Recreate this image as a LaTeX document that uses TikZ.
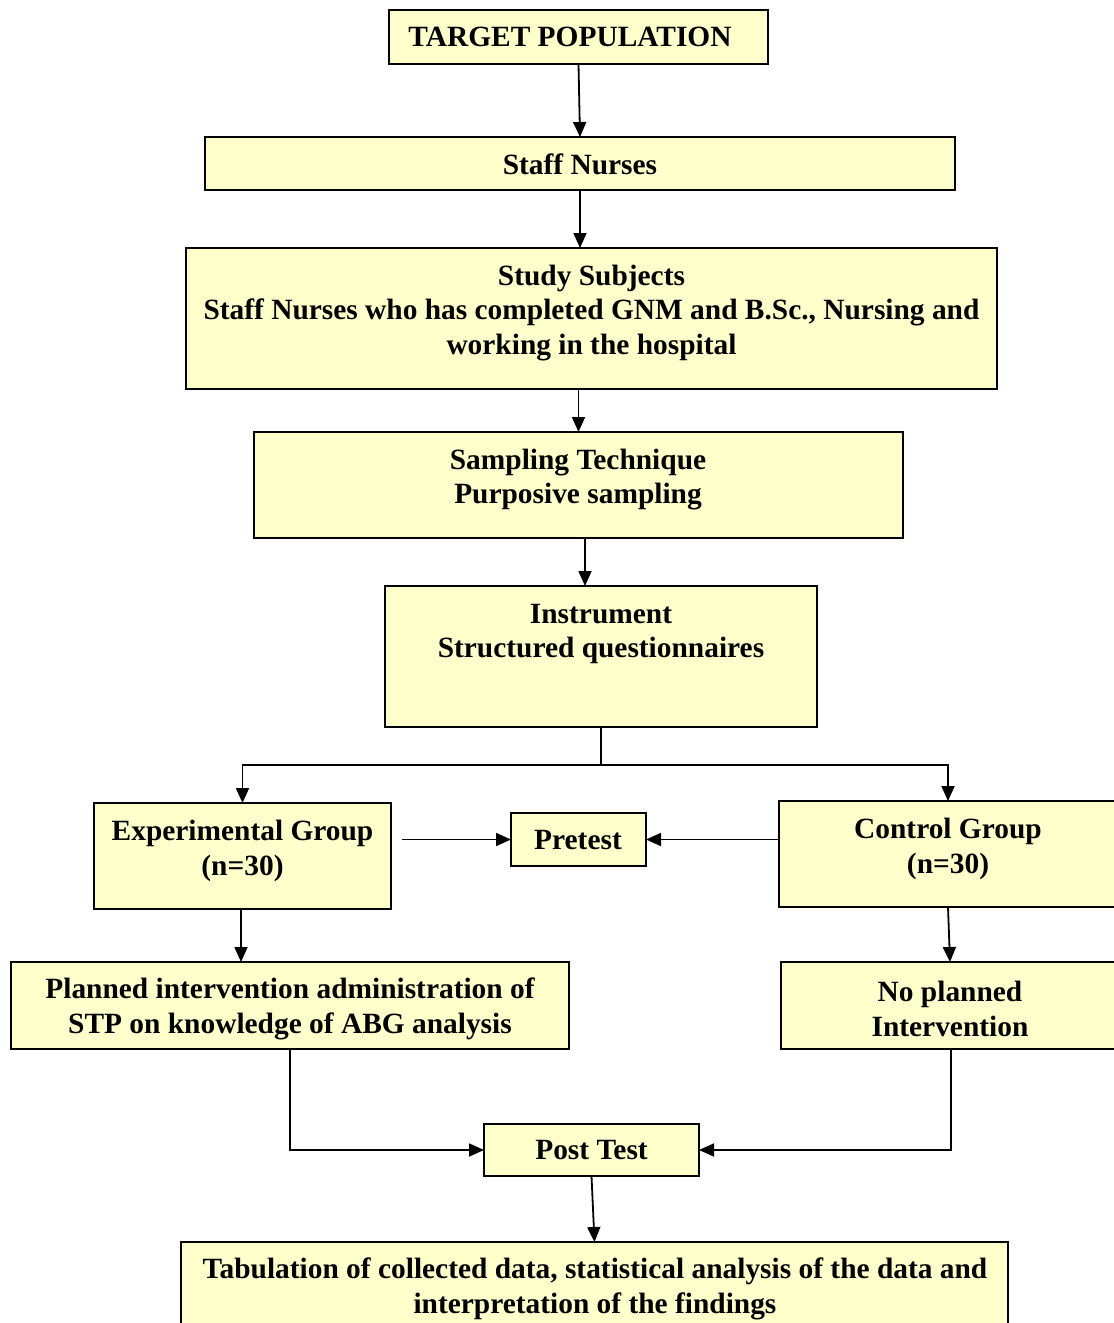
\documentclass[tikz,border=0pt]{standalone}
\usepackage{fontspec}
\setmainfont{Liberation Serif}
\usetikzlibrary{arrows.meta}
\definecolor{boxfill}{HTML}{FFFFCC}
\tikzset{
  box/.style={draw=black, line width=1.8pt, fill=boxfill, rectangle, inner sep=0pt, outer sep=0pt, anchor=north west},
  txt/.style={align=center, inner sep=0pt, yshift=-3pt, font=\bfseries\fontsize{29.4}{34.5}\selectfont},
  txtone/.style={txt, yshift=3pt},
  arr/.style={line width=1.8pt, -{Triangle[length=15pt,width=13pt]}},
  ln/.style={line width=1.8pt}
}
\begin{document}
\begin{tikzpicture}[x=1pt,y=-1pt]
\useasboundingbox (0,0) rectangle (1114,1323);
\clip (0,0) rectangle (1114,1323);
\fill[white] (0,0) rectangle (1114,1323);
% boxes
\node[box, minimum width=379pt, minimum height=54pt] (tp) at (389,10) {};
\node[box, minimum width=750pt, minimum height=53pt] (sn) at (205,137) {};
\node[box, minimum width=811pt, minimum height=141pt] (ss) at (186,248) {};
\node[box, minimum width=649pt, minimum height=106pt] (sp) at (254,432) {};
\node[box, minimum width=432pt, minimum height=141pt] (in) at (385,586) {};
\node[box, minimum width=297pt, minimum height=106pt] (eg) at (94,803) {};
\node[box, minimum width=135pt, minimum height=53pt] (pt) at (511,813) {};
\node[box, minimum width=338pt, minimum height=106pt] (cg) at (779,801) {};
\node[box, minimum width=558pt, minimum height=87pt] (pl) at (11,962) {};
\node[box, minimum width=338pt, minimum height=87pt] (np) at (781,962) {};
\node[box, minimum width=215pt, minimum height=52pt] (pst) at (484,1124) {};
\node[box, minimum width=827pt, minimum height=120pt] (tab) at (181,1242) {};
% texts
\node[txtone] (tpt) at (570,37) {TARGET POPULATION};
\node[txtone] (snt) at (580,164) {Staff Nurses};
\node[txt] (sst) at (591.5,310) {Study Subjects\\Staff Nurses who has completed GNM and B.Sc., Nursing and\\working in the hospital};
\node[txt] (spt) at (578,476.5) {Sampling Technique\\Purposive sampling};
\node[txt] (int) at (601,631) {Instrument\\Structured questionnaires};
\node[txt] (egt) at (242.5,848) {Experimental Group\\(n=30)};
\node[txtone] (ptt) at (578,840) {Pretest};
\node[txt] (cgt) at (948,846) {Control Group\\(n=30)};
\node[txt] (plt) at (290,1006) {Planned intervention administration of\\STP on knowledge of ABG analysis};
\node[txt] (npt) at (950,1006) {No planned\\Intervention};
\node[txtone] (pstt) at (591.5,1150) {Post Test};
\node[txt] (tabt) at (595,1286) {Tabulation of collected data, statistical analysis of the data and\\interpretation of the findings};
% connectors
\draw[arr] (tp.south) -- (sn.north);
\draw[arr] (sn.south) -- (sn.south |- ss.north);
\draw[arr] (sp.north |- ss.south) -- (sp.north);
\draw[arr] ([xshift=6.5pt]sp.south) -- ([xshift=6.5pt]sp.south |- in.north);
\draw[ln] (in.south) -- ++(0,38) coordinate (sp1);
\draw[arr] (sp1) -| (eg.north);
\draw[arr] (sp1) -| (cg.north);
\draw[arr] ([xshift=11pt]eg.east |- pt.west) -- (pt.west);
\draw[arr] (cg.west |- pt.east) -- (pt.east);
\draw[arr] ([xshift=-1.5pt]eg.south) -- ([xshift=-1.5pt]eg.south |- pl.north);
\draw[arr] (cg.south) -- ([xshift=2pt]cg.south |- np.north);
\draw[arr] (pl.south) |- (pst.west);
\draw[arr] ([xshift=1pt]np.south) |- (pst.east);
\draw[arr] (pst.south) -- ([xshift=3pt]pst.south |- tab.north);
\end{tikzpicture}
\end{document}
